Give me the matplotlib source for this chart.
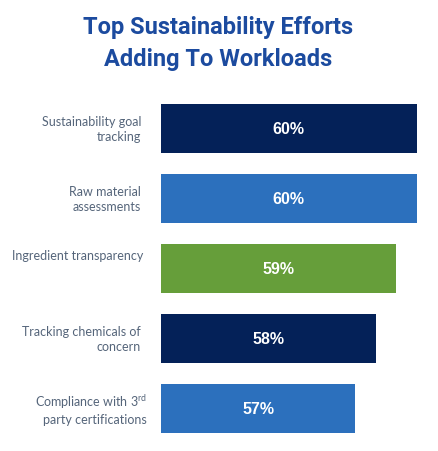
import matplotlib
matplotlib.use("Agg")
import matplotlib.pyplot as plt
from matplotlib.transforms import blended_transform_factory

plt.rcParams["mathtext.fontset"] = "custom"
plt.rcParams["mathtext.rm"] = "Lato"

CATEGORIES = [
    "Sustainability goal\ntracking",
    "Raw material\nassessments",
    "Ingredient transparency",
    "Tracking chemicals of\nconcern",
    "Compliance with 3$^{\\mathregular{rd}}$\nparty certifications",
]
VALUES = [60, 60, 59, 58, 57]
BAR_COLORS = ["#042158", "#2c70bd", "#669e3a", "#042158", "#2c70bd"]

TITLE = "Top Sustainability Efforts\nAdding To Workloads"
TITLE_COLOR = "#1c4b9f"
LABEL_COLOR = "#55657a"

W, H = 439, 452
fig = plt.figure(figsize=(W / 100, H / 100), dpi=100)
ax = fig.add_axes([161 / W, (H - 444.5) / H, 276.2 / W, 350 / H])

x0 = 47.5
ypos = list(range(len(VALUES)))
ax.barh(ypos, [v - x0 for v in VALUES], left=x0, height=0.69,
        color=BAR_COLORS, edgecolor="none")
ax.set_xlim(x0, 61)
ax.set_ylim(len(VALUES) - 0.5, -0.5)
ax.set_axis_off()

for y, v in zip(ypos, VALUES):
    ax.text((x0 + v) / 2, y, f"{v}%", ha="center", va="center",
            color="white", fontsize=11.5, fontweight="bold",
            family="Liberation Sans")

# category labels sit left of the bars, right-aligned
label_tr = blended_transform_factory(fig.transFigure, ax.transData)
for y, lab in zip(ypos, CATEGORIES):
    ty = y if "\n" in lab else y - 0.2
    if "3$" in lab:
        rx = 147
    elif "\n" not in lab:
        rx = 143
    else:
        rx = 141
    ax.text(rx / W, ty, lab, transform=label_tr,
            ha="right", va="center", color=LABEL_COLOR, fontsize=9,
            family="Lato", linespacing=1.3)

fig.text(218 / W, 1 - 43.5 / H, TITLE, ha="center", va="center",
         color=TITLE_COLOR, fontsize=17, fontweight="bold",
         family="Roboto", linespacing=1.55)

fig.savefig("out.png", dpi=100, facecolor="white")
